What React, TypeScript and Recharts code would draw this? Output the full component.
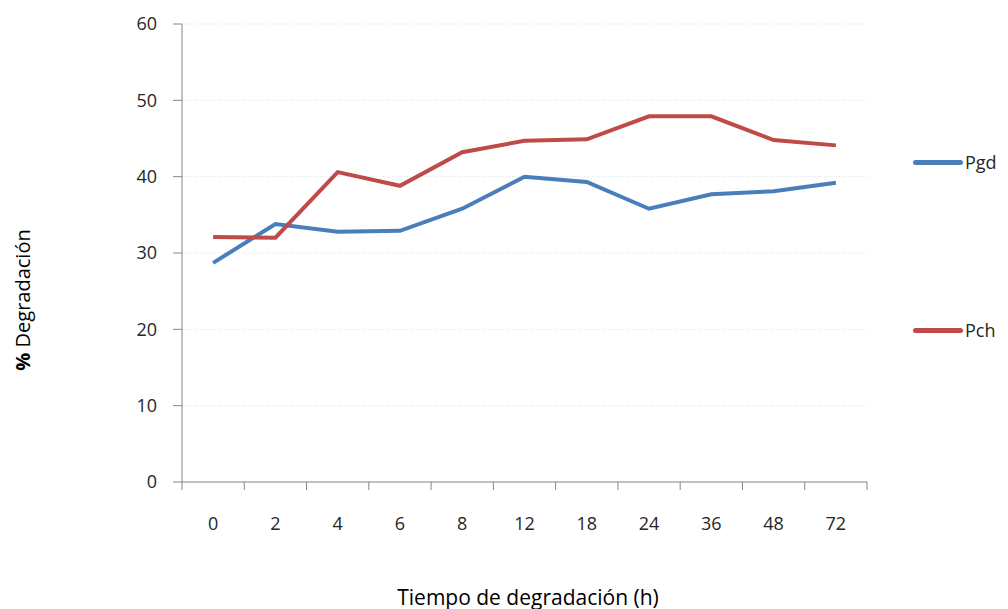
import { LineChart, Line, XAxis, YAxis, CartesianGrid } from 'recharts';

const hours = ['0', '2', '4', '6', '8', '12', '18', '24', '36', '48', '72'];
const pgd = [28.7, 33.8, 32.8, 32.9, 35.8, 40.0, 39.3, 35.8, 37.7, 38.1, 39.2];
const pch = [32.1, 32.0, 40.6, 38.8, 43.2, 44.7, 44.9, 47.9, 47.9, 44.8, 44.1];
const yTicks = [0, 10, 20, 30, 40, 50, 60];

const data = hours.map((h, i) => ({ h, Pgd: pgd[i], Pch: pch[i] }));

const font = "'Open Sans', sans-serif";
const axisGray = '#868686';
const textColor = '#262626';

const W = 1008;
const H = 609;
const M = { top: 24, right: 141, left: 122, bottom: 97 };
const plotW = W - M.left - 60 - M.right;
const halfBand = plotW / hours.length / 2;

const legendItems = [
  { name: 'Pgd', color: '#4a7ebb', top: 150 },
  { name: 'Pch', color: '#be4b48', top: 318 },
];

// Excel-style category axis: tick marks sit between categories
const CatTick = (props: any) => {
  const { x, y, payload, index } = props;
  const last = index === hours.length - 1;
  return (
    <g>
      <line x1={x - halfBand} x2={x - halfBand} y1={y} y2={y + 8} stroke={axisGray} />
      {last && <line x1={x + halfBand} x2={x + halfBand} y1={y} y2={y + 8} stroke={axisGray} />}
      <text x={x} y={y + 41} textAnchor="middle" dominantBaseline="central" fontSize={18} fill={textColor} fontFamily={font}>
        {payload.value}
      </text>
    </g>
  );
};

export default function App() {
  return (
    <div style={{ position: 'absolute', left: 0, top: 0, width: W, height: H, background: '#fff', fontFamily: font }}>
      <LineChart width={W} height={H} data={data} margin={M}>
        <CartesianGrid horizontal vertical={false} stroke="#d5deea" strokeDasharray="1 2" />
        <XAxis
          dataKey="h"
          height={30}
          padding={{ left: halfBand, right: halfBand }}
          axisLine={{ stroke: axisGray }}
          tickLine={false}
          tickSize={0}
          tickMargin={0}
          tick={CatTick}
          interval={0}
        />
        <YAxis
          domain={[0, 60]}
          ticks={yTicks}
          width={60}
          axisLine={{ stroke: axisGray }}
          tickLine={{ stroke: axisGray }}
          tickSize={9}
          tickMargin={16}
          tick={{ fontSize: 18, fill: textColor, fontFamily: font }}
        />
        <Line type="linear" dataKey="Pgd" stroke="#4a7ebb" strokeWidth={4} dot={false} isAnimationActive={false} />
        <Line type="linear" dataKey="Pch" stroke="#be4b48" strokeWidth={4} dot={false} isAnimationActive={false} />
      </LineChart>
      {legendItems.map((it) => (
        <div key={it.name} style={{ position: 'absolute', left: 913, top: it.top, display: 'flex', alignItems: 'center' }}>
          <div style={{ width: 50, height: 5, borderRadius: 3, background: it.color }} />
          <span style={{ fontSize: 18, color: textColor, marginLeft: 2 }}>{it.name}</span>
        </div>
      ))}
      <div
        style={{
          position: 'absolute',
          left: 22,
          top: 300,
          transform: 'translate(-50%, -50%) rotate(-90deg)',
          whiteSpace: 'nowrap',
          fontSize: 20,
          color: '#000',
        }}
      >
        <b>%</b> Degradación
      </div>
      <div
        style={{
          position: 'absolute',
          left: 528,
          top: 597,
          transform: 'translate(-50%, -50%)',
          whiteSpace: 'nowrap',
          fontSize: 21,
          color: '#000',
        }}
      >
        Tiempo de degradación (h)
      </div>
    </div>
  );
}
